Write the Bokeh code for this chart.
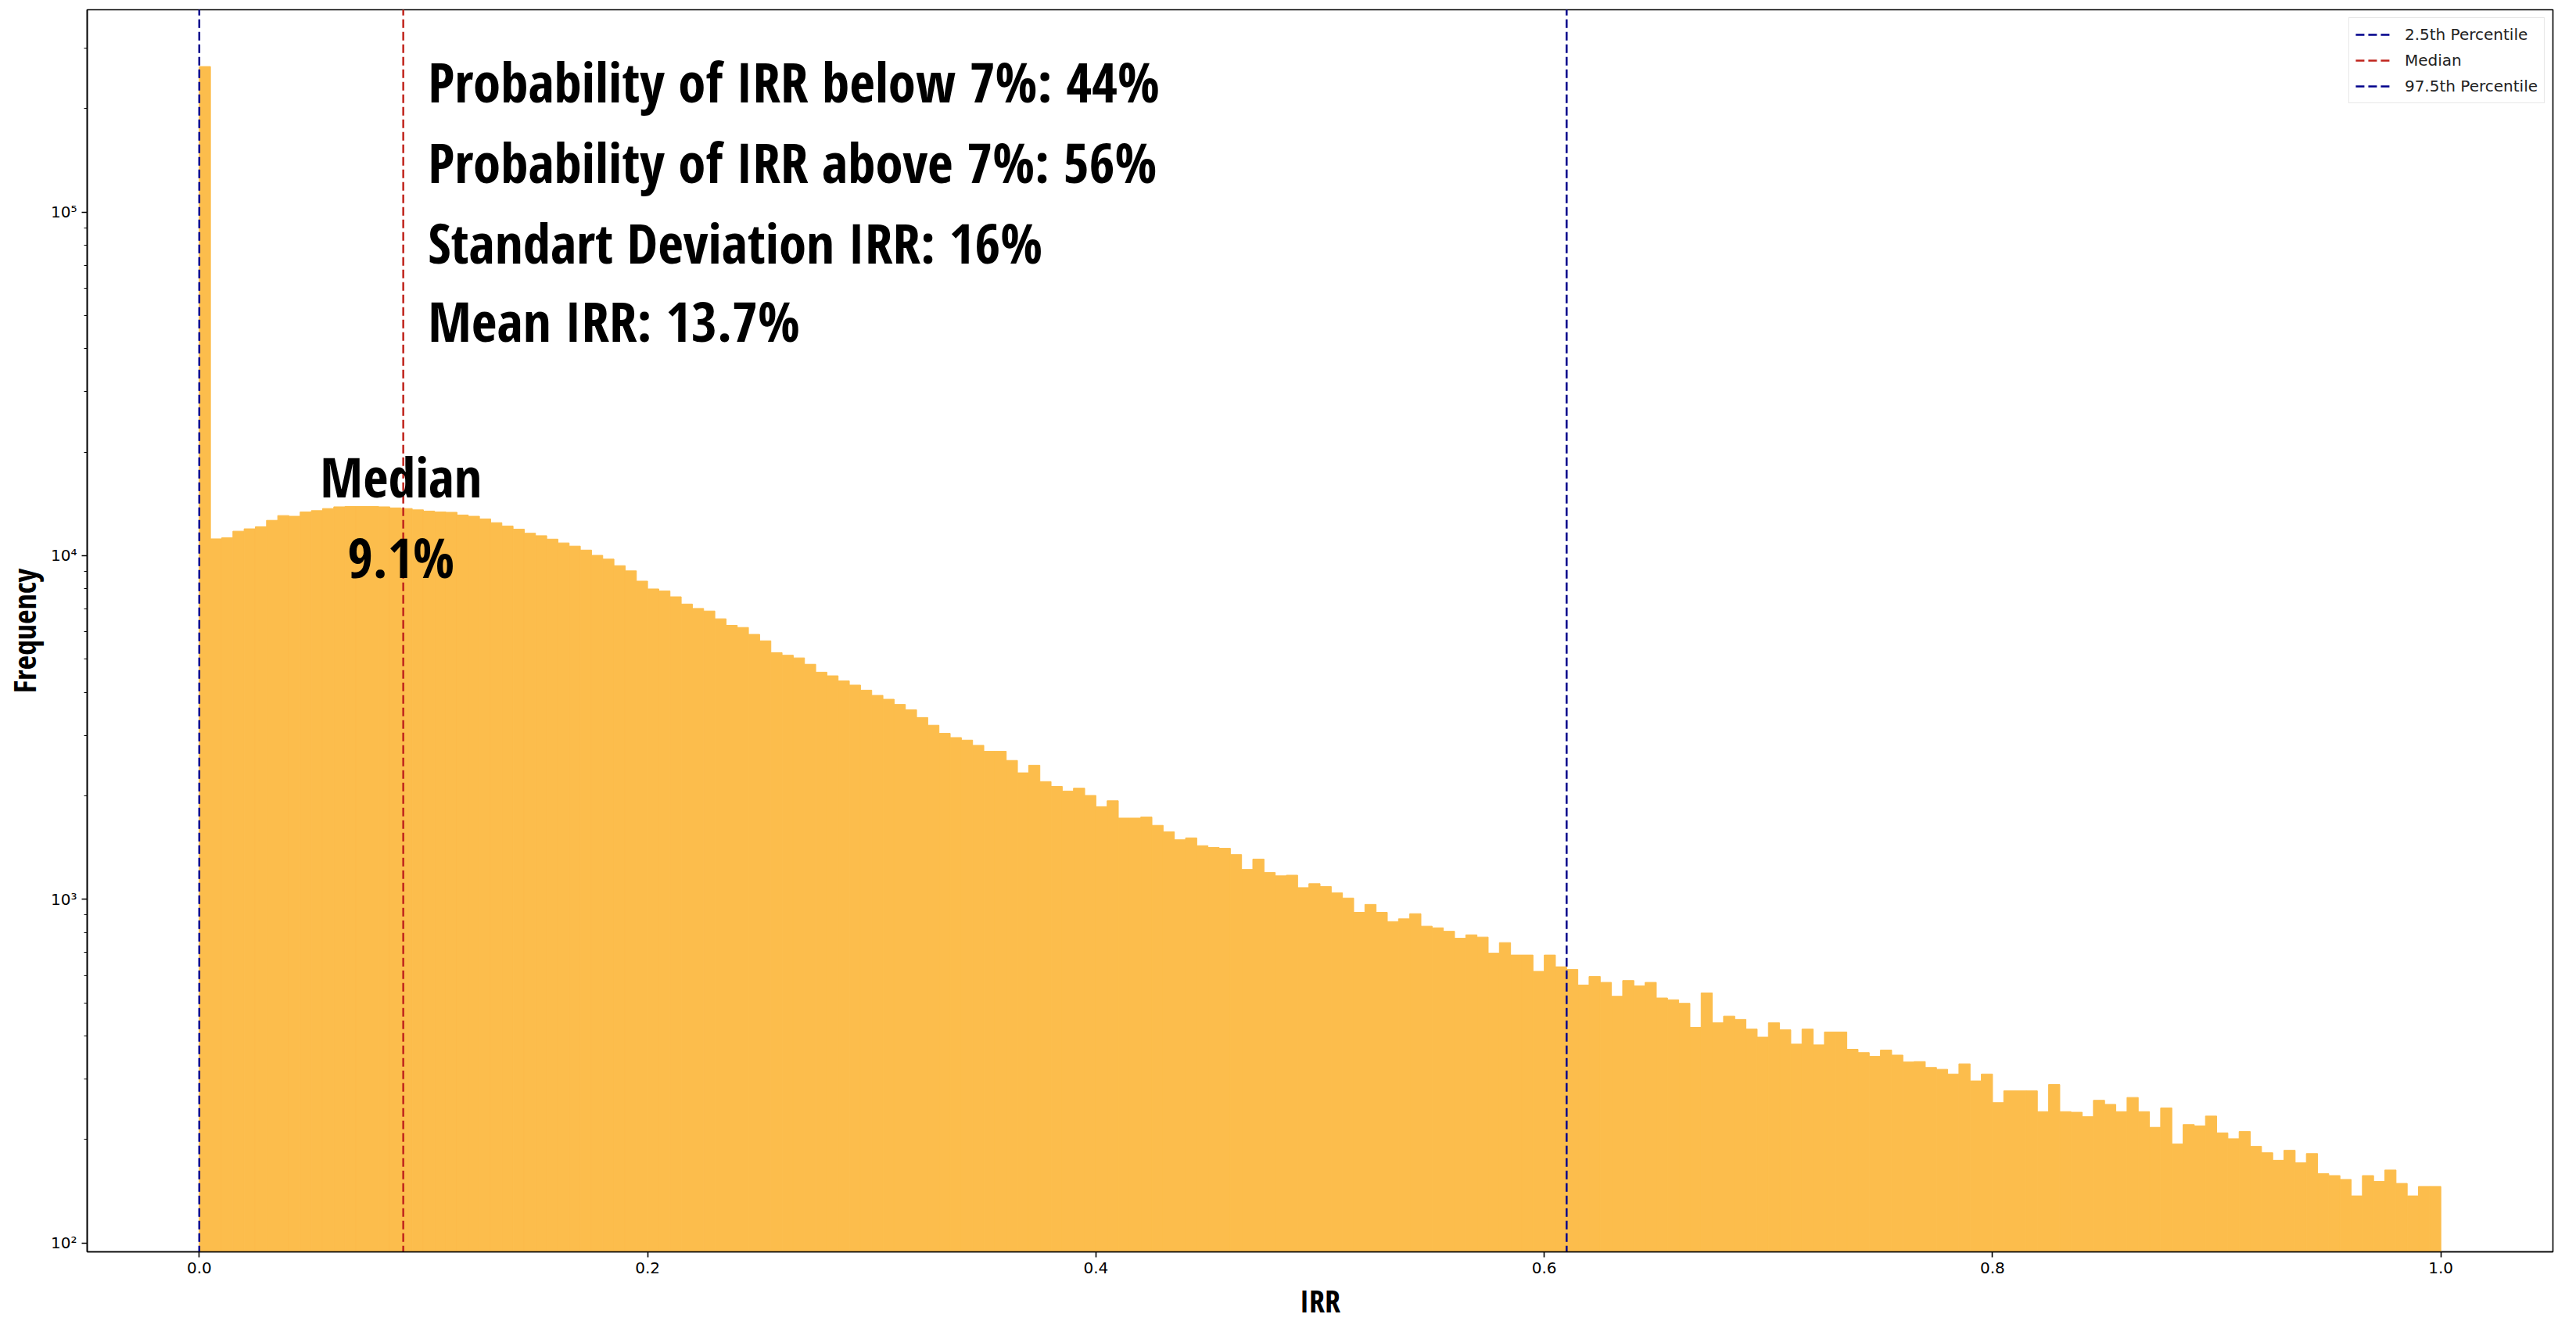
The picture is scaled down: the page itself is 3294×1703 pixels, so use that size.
import numpy as np
from bokeh.plotting import figure
from bokeh.models import Range1d, FixedTicker, ColumnDataSource
from bokeh.core.properties import value
from bokeh.embed import file_html
from bokeh.resources import INLINE

# ---------------- data ----------------
bin_start = 0.0
bin_end = 1.0
counts = [
    265000, 11190, 11270, 11780, 11970, 12130, 12670, 13080, 13020, 13400,
    13520, 13710, 13870, 13900, 13900, 13900, 13870, 13770, 13710, 13590,
    13480, 13400, 13370, 13130, 13020, 12790, 12470, 12190, 11940, 11620,
    11430, 11170, 10890, 10660, 10380, 10020, 9770, 9350, 9030, 8430,
    8000, 7890, 7590, 7230, 7020, 6900, 6550, 6270, 6180, 5900,
    5650, 5220, 5130, 5040, 4830, 4580, 4470, 4320, 4200, 4060,
    3920, 3820, 3690, 3560, 3380, 3210, 3040, 2955, 2905, 2805,
    2695, 2695, 2535, 2333, 2455, 2200, 2130, 2065, 2105, 2005,
    1860, 1935, 1723, 1723, 1735, 1641, 1571, 1490, 1509, 1432,
    1415, 1407, 1349, 1221, 1309, 1196, 1170, 1175, 1081, 1110,
    1089, 1044, 1008, 916, 966, 916, 861, 877, 908, 835,
    826, 807, 770, 788, 776, 697, 748, 688, 688, 617,
    688, 636, 625, 563, 596, 573, 522, 580, 560, 573,
    516, 510, 498, 424, 534, 437, 457, 447, 419, 397,
    437, 417, 379, 419, 377, 411, 411, 366, 358, 349,
    364, 352, 336, 337, 324, 320, 310, 332, 296, 310,
    256, 277, 277, 277, 241, 289, 241, 240, 233, 260,
    253, 241, 265, 241, 217, 247, 194, 221, 219, 234,
    209, 201, 211, 191, 183, 174, 186, 171, 182, 159,
    157, 153, 137, 157, 151, 163, 149, 137, 146, 146,
]

pct_labels = ["2.5th Percentile", "Median", "97.5th Percentile"]
pct_values = [0.0, 0.091, 0.61]
pct_colors = ["darkblue", "#C0241C", "darkblue"]

stats_lines = [
    "Probability of IRR below 7%: 44%",
    "Probability of IRR above 7%: 56%",
    "Standart Deviation IRR: 16%",
    "Mean IRR: 13.7%",
]
stats_y = [240800, 140000, 81800, 48300]

median_lines = ["Median", "9.1%"]
median_y = [17000, 9920]

x_ticks = [0.0, 0.2, 0.4, 0.6, 0.8, 1.0]
y_ticks = [100, 1000, 10000, 100000]
y_tick_labels = {100: "10²", 1000: "10³", 10000: "10⁴", 100000: "10⁵"}

# ---------------- figure ----------------
BIG_FONT = ("'Open Sans Condensed', 'Noto Sans Condensed', "
            "'DejaVu Sans Condensed', 'Roboto', sans-serif")
TICK_FONT = "DejaVu Sans"

edges = np.linspace(bin_start, bin_end, len(counts) + 1)
src = ColumnDataSource(dict(left=edges[:-1], right=edges[1:], top=counts,
                            bottom=[1.0] * len(counts)))

p = figure(width=3278, height=1692,
           x_range=Range1d(-0.05, 1.05),
           y_range=Range1d(94.2, 387700),
           y_axis_type="log",
           output_backend="svg", toolbar_location=None,
           min_border_left=109, min_border_right=14,
           min_border_top=12, min_border_bottom=86)

p.quad(left="left", right="right", top="top", bottom="bottom", source=src,
       fill_color="#FCBD4C", line_color="#FCBD4C", line_width=1)

for v, lab, col in zip(pct_values, pct_labels, pct_colors):
    p.line(x=[v, v], y=[1, 1e8], line_color=col, line_width=2.5,
           line_dash="11 5", legend_label=lab)

p.text(x=[0.102] * len(stats_lines), y=stats_y, text=stats_lines,
       text_font=value(BIG_FONT), text_font_size="71px", text_font_style="bold",
       text_color="black", text_align="left", text_baseline="alphabetic")

p.text(x=[0.09] * len(median_lines), y=median_y, text=median_lines,
       text_font=value(BIG_FONT), text_font_size="70px", text_font_style="bold",
       text_color="black", text_align="center", text_baseline="alphabetic")

# grid / outline
p.grid.visible = False
p.outline_line_color = "black"
p.outline_line_width = 1.6
p.background_fill_color = "white"
p.border_fill_color = "white"

# x axis
p.xaxis.ticker = FixedTicker(ticks=x_ticks, minor_ticks=[])
p.xaxis.major_label_overrides = {t: f"{t:.1f}" for t in x_ticks}
p.xaxis.axis_label = "IRR"

# y axis
minor = [k * 10 ** d for d in range(1, 6) for k in range(2, 10)]
p.yaxis.ticker = FixedTicker(ticks=y_ticks, minor_ticks=minor)
p.yaxis.major_label_overrides = y_tick_labels
p.yaxis.axis_label = "Frequency"

for ax in (p.xaxis[0], p.yaxis[0]):
    ax.axis_line_color = "black"
    ax.axis_line_width = 1.6
    ax.major_tick_line_color = "black"
    ax.major_tick_line_width = 1.6
    ax.major_tick_out = 7
    ax.major_tick_in = 0
    ax.minor_tick_line_color = "black"
    ax.minor_tick_line_width = 1.2
    ax.minor_tick_out = 4
    ax.minor_tick_in = 0
    ax.major_label_text_font = TICK_FONT
    ax.major_label_text_font_size = "20px"
    ax.major_label_text_color = "black"
    ax.major_label_standoff = 6
    ax.axis_label_text_font = BIG_FONT
    ax.axis_label_text_font_size = "40px"
    ax.axis_label_text_font_style = "bold"
    ax.axis_label_text_color = "black"
    ax.axis_label_standoff = 4

# legend
lg = p.legend[0]
lg.location = "top_right"
lg.margin = 10
lg.padding = 8
lg.spacing = 7
lg.label_height = 26
lg.glyph_height = 26
lg.glyph_width = 47
lg.label_standoff = 16
lg.label_text_font = TICK_FONT
lg.label_text_font_size = "20px"
lg.label_text_color = "#222222"
lg.border_line_color = "#d0d0d0"
lg.border_line_width = 1.5
lg.background_fill_alpha = 0.85

open("out.html", "w").write(file_html(p, INLINE))
